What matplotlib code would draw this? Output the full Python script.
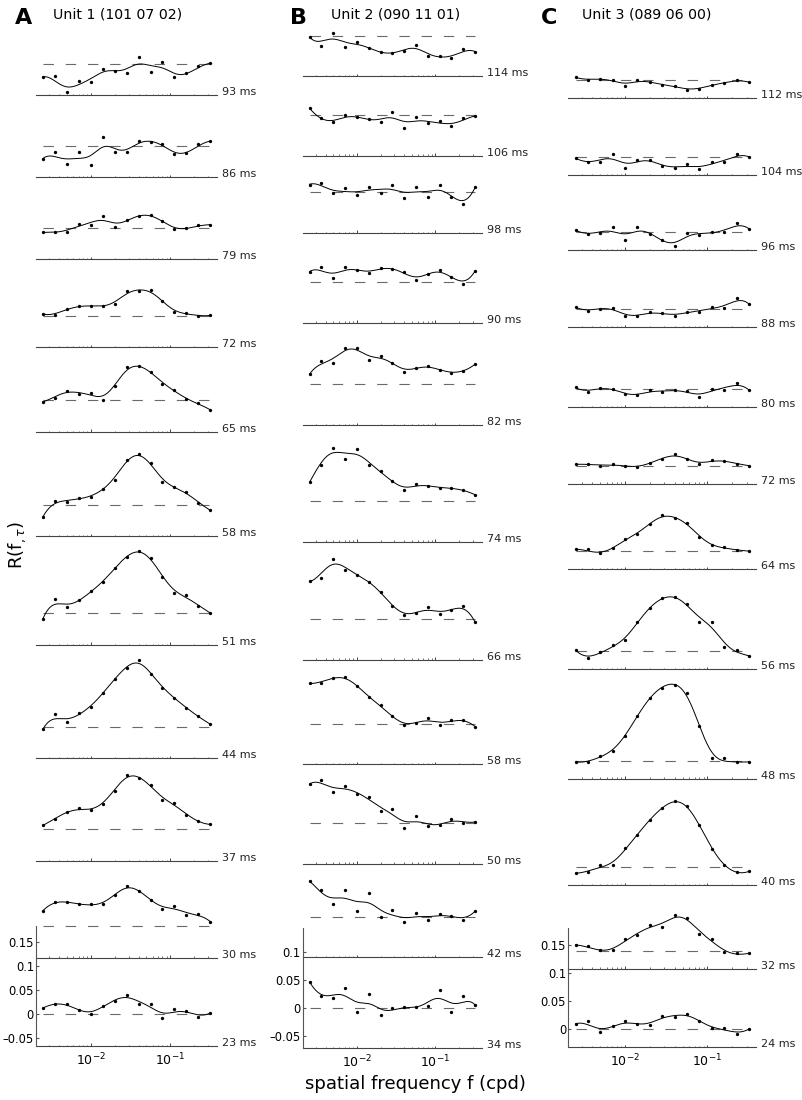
import numpy as np
import matplotlib.pyplot as plt
from matplotlib.ticker import FixedLocator, NullLocator

plt.rcParams['font.family'] = 'DejaVu Sans'
plt.rcParams['lines.scale_dashes'] = False

# spatial frequencies (cpd), same for all three units
freqs = [0.0025, 0.0035, 0.005, 0.0071, 0.01, 0.0141, 0.02, 0.0283,
         0.04, 0.0566, 0.08, 0.113, 0.16, 0.226, 0.32]

# Unit 1 (101 07 02)
unit1_lags = [93, 86, 79, 72, 65, 58, 51, 44, 37, 30, 23]
unit1_r = [
    [-0.028, -0.026, -0.058, -0.036, -0.037, -0.011, -0.014, -0.020, 0.014, -0.017, 0.004, -0.028, -0.020, -0.005, 0.001],
    [-0.027, -0.014, -0.038, -0.012, -0.041, 0.018, -0.014, -0.012, 0.010, 0.008, 0.004, -0.017, -0.016, 0.004, 0.009],
    [-0.010, -0.008, -0.008, 0.007, 0.005, 0.025, 0.001, 0.016, 0.025, 0.026, 0.014, -0.003, -0.001, 0.005, 0.006],
    [0.004, 0.002, 0.014, 0.020, 0.021, 0.021, 0.024, 0.051, 0.051, 0.053, 0.030, 0.008, 0.007, 0.000, 0.001],
    [-0.003, 0.004, 0.020, 0.013, 0.016, 0.001, 0.030, 0.068, 0.070, 0.059, 0.034, 0.021, 0.002, -0.006, -0.020],
    [-0.025, 0.008, 0.006, 0.014, 0.017, 0.033, 0.052, 0.093, 0.106, 0.086, 0.048, 0.037, 0.026, 0.004, -0.011],
    [-0.012, 0.030, 0.012, 0.027, 0.046, 0.064, 0.093, 0.117, 0.130, 0.114, 0.076, 0.043, 0.037, 0.015, 0.001],
    [-0.006, 0.026, 0.009, 0.028, 0.041, 0.069, 0.098, 0.122, 0.138, 0.109, 0.080, 0.060, 0.039, 0.021, 0.005],
    [0.008, 0.021, 0.035, 0.044, 0.039, 0.053, 0.080, 0.113, 0.107, 0.091, 0.061, 0.054, 0.030, 0.016, 0.010],
    [0.032, 0.050, 0.050, 0.045, 0.045, 0.046, 0.064, 0.084, 0.073, 0.055, 0.035, 0.042, 0.023, 0.026, 0.009],
    [0.013, 0.021, 0.021, 0.009, 0.001, 0.018, 0.027, 0.041, 0.021, 0.022, -0.007, 0.010, 0.006, -0.005, 0.003],
]

# Unit 2 (090 11 01)
unit2_lags = [114, 106, 98, 90, 82, 74, 66, 58, 50, 42, 34]
unit2_r = [
    [-0.002, -0.019, 0.004, -0.020, -0.011, -0.023, -0.030, -0.032, -0.027, -0.017, -0.037, -0.036, -0.040, -0.024, -0.029],
    [0.012, -0.006, -0.013, 0.000, -0.004, -0.007, -0.013, 0.006, -0.023, -0.003, -0.015, -0.011, -0.019, -0.006, -0.002],
    [0.014, 0.017, -0.002, 0.007, -0.005, 0.010, -0.001, 0.014, -0.010, 0.010, -0.008, 0.013, -0.008, -0.021, 0.009],
    [0.018, 0.027, 0.007, 0.027, 0.021, 0.016, 0.025, 0.024, 0.017, 0.004, 0.015, 0.021, 0.009, -0.004, 0.020],
    [0.018, 0.042, 0.039, 0.065, 0.065, 0.044, 0.051, 0.039, 0.023, 0.030, 0.033, 0.026, 0.021, 0.024, 0.036],
    [0.034, 0.064, 0.095, 0.074, 0.092, 0.065, 0.053, 0.036, 0.020, 0.030, 0.027, 0.023, 0.023, 0.019, 0.011],
    [0.068, 0.073, 0.107, 0.088, 0.079, 0.067, 0.049, 0.024, 0.008, 0.011, 0.021, 0.009, 0.016, 0.024, -0.006],
    [0.072, 0.073, 0.081, 0.083, 0.068, 0.047, 0.033, 0.014, -0.002, 0.002, 0.010, -0.002, 0.006, 0.007, -0.005],
    [0.069, 0.077, 0.056, 0.066, 0.051, 0.046, 0.022, 0.024, -0.009, 0.012, -0.006, -0.004, 0.007, -0.001, 0.002],
    [0.063, 0.048, 0.023, 0.048, 0.010, 0.042, -0.001, 0.012, -0.010, 0.007, -0.005, 0.005, 0.001, -0.005, 0.010],
    [0.046, 0.021, 0.018, 0.035, -0.008, 0.024, -0.013, -0.001, 0.001, 0.001, 0.003, 0.032, -0.008, 0.021, 0.004],
]

# Unit 3 (089 06 00)
unit3_lags = [112, 104, 96, 88, 80, 72, 64, 56, 48, 40, 32, 24]
unit3_r = [
    [0.005, 0.000, 0.002, 0.001, -0.011, 0.001, -0.004, -0.009, -0.010, -0.017, -0.015, -0.008, -0.006, 0.000, -0.004],
    [-0.002, -0.009, -0.008, 0.005, -0.020, -0.005, -0.005, -0.016, -0.019, -0.013, -0.021, -0.009, -0.009, 0.005, 0.000],
    [0.003, -0.004, -0.002, 0.008, -0.015, 0.009, -0.004, -0.014, -0.026, -0.002, -0.005, -0.001, 0.000, 0.015, 0.005],
    [0.004, -0.003, 0.001, 0.003, -0.012, -0.011, -0.005, -0.007, -0.011, -0.004, -0.004, 0.004, 0.002, 0.021, 0.009],
    [0.003, -0.005, 0.002, 0.001, -0.009, -0.011, -0.002, -0.005, -0.002, -0.003, -0.014, 0.001, -0.001, 0.011, -0.002],
    [0.002, 0.003, 0.000, 0.002, 0.000, -0.003, 0.005, 0.012, 0.020, 0.012, 0.002, 0.010, 0.008, 0.003, 0.000],
    [0.003, 0.003, -0.004, 0.005, 0.022, 0.030, 0.048, 0.064, 0.058, 0.050, 0.025, 0.010, 0.007, 0.002, 0.000],
    [0.002, -0.012, -0.002, 0.010, 0.020, 0.052, 0.077, 0.094, 0.096, 0.084, 0.052, 0.052, 0.007, 0.002, -0.009],
    [-0.002, -0.002, 0.009, 0.018, 0.044, 0.080, 0.112, 0.130, 0.135, 0.121, 0.062, 0.005, 0.005, -0.002, -0.002],
    [-0.010, -0.008, 0.004, 0.005, 0.034, 0.058, 0.085, 0.105, 0.118, 0.110, 0.075, 0.033, 0.004, -0.008, -0.007],
    [0.010, 0.008, 0.001, 0.001, 0.020, 0.028, 0.046, 0.042, 0.063, 0.058, 0.030, 0.020, -0.002, -0.005, -0.005],
    [0.009, 0.014, -0.004, 0.006, 0.014, 0.009, 0.008, 0.024, 0.021, 0.028, 0.014, 0.002, 0.002, -0.008, 0.001],
]

# vertical stacking offset of each trace's zero line (in R units)
unit1_offsets = [1.972, 1.802, 1.632, 1.449, 1.274, 1.057, 0.832, 0.597, 0.384, 0.183, 0.0]
unit2_offsets = [1.736, 1.594, 1.456, 1.296, 1.113, 0.905, 0.694, 0.507, 0.330, 0.1625, 0.0]
unit3_offsets = [1.689, 1.552, 1.419, 1.281, 1.139, 1.003, 0.851, 0.673, 0.478, 0.288, 0.140, 0.0]


def smooth(x, y, xs, bw=0.16):
    # local quadratic fit with gaussian weights, in log frequency
    out = []
    for x0 in xs:
        w = np.sqrt(np.exp(-0.5 * ((x - x0) / bw) ** 2))
        A = np.vstack([np.ones_like(x), x - x0, (x - x0) ** 2]).T
        coef = np.linalg.lstsq(A * w[:, None], y * w, rcond=None)[0]
        out.append(coef[0])
    return np.array(out)


W, H = 803, 1100
fig = plt.figure(figsize=(W / 100, H / 100), dpi=100)

xlim = (0.00204, 0.389)
minor = [m * 10.0 ** k for k in (-3, -2, -1) for m in range(2, 10)]
minor = [v for v in minor if xlim[0] < v < xlim[1]]
major = [0.01, 0.1]

columns = [
    dict(letter='A', title='Unit 1 (101 07 02)', lags=unit1_lags, r=unit1_r, offs=unit1_offsets,
         left=36, right=217, zero_px=1014.3, ppu=482, floor=-0.0655, top=0.183,
         yticks=[-0.05, 0, 0.05, 0.1, 0.15], letter_x=15, title_x=53),
    dict(letter='B', title='Unit 2 (090 11 01)', lags=unit2_lags, r=unit2_r, offs=unit2_offsets,
         left=302.7, right=481.7, zero_px=1007.7, ppu=560, floor=-0.0725, top=0.143,
         yticks=[-0.05, 0, 0.05, 0.1], letter_x=290, title_x=331),
    dict(letter='C', title='Unit 3 (089 06 00)', lags=unit3_lags, r=unit3_r, offs=unit3_offsets,
         left=568.3, right=756, zero_px=1029.3, ppu=562, floor=-0.032, top=0.18,
         yticks=[0, 0.05, 0.1, 0.15], letter_x=541, title_x=582),
]

lx = np.log10(freqs)
xs = np.linspace(lx[0], lx[-1], 300)

for col in columns:
    bottom_px = col['zero_px'] - col['floor'] * col['ppu']
    ax = fig.add_axes([col['left'] / W, 1 - bottom_px / H,
                       (col['right'] - col['left']) / W, bottom_px / H])
    ax.set_xscale('log')
    ax.set_xlim(xlim)
    ax.set_ylim(col['floor'], col['zero_px'] / col['ppu'])
    ax.patch.set_visible(False)
    for s in ['top', 'right', 'bottom']:
        ax.spines[s].set_visible(False)
    ax.spines['left'].set_bounds(col['floor'], col['top'])
    ax.spines['left'].set_color('#555555')
    ax.spines['left'].set_linewidth(0.8)

    px = 1.0 / col['ppu']
    for lag, vals, off in zip(col['lags'], col['r'], col['offs']):
        vals = np.array(vals)
        base = off + col['floor']
        ax.plot(xlim, [base, base], color='#444444', lw=0.8, clip_on=False)
        ax.vlines(minor, base, base + 1.2 * px, color='#555555', lw=0.6)
        ax.vlines(major, base, base + 2.5 * px, color='#444444', lw=0.7)
        ax.plot([freqs[0], freqs[-1]], [off, off], color='#6a6a6a', lw=0.8,
                dashes=(7.5, 8.5))
        ax.plot(10 ** xs, off + smooth(lx, vals, xs), color='black', lw=0.7)
        ax.plot(freqs, off + vals, 'o', color='black', ms=2.4, mew=0)
        ax.annotate(f'{lag} ms', xy=(1, base), xycoords=('axes fraction', 'data'),
                    xytext=(3.5, 0), textcoords='offset points', va='baseline',
                    fontsize=8, color='#222222')

    ax.xaxis.set_major_locator(FixedLocator(major))
    ax.xaxis.set_minor_locator(NullLocator())
    ax.tick_params(axis='x', length=0, labelsize=9, pad=4)
    ax.set_yticks(col['yticks'])
    ax.set_yticklabels([('\u2013' + f'{abs(v):g}') if v < 0 else f'{v:g}' for v in col['yticks']])
    ax.tick_params(axis='y', direction='in', length=2, labelsize=8.3, pad=1.5, color='#555555')

    fig.text(col['letter_x'] / W, 1 - 23.5 / H, col['letter'], fontsize=16,
             fontweight='bold', va='baseline')
    fig.text(col['title_x'] / W, 1 - 18.5 / H, col['title'], fontsize=10.2, va='baseline')

fig.text(415 / W, 1 - 1084 / H, 'spatial frequency f (cpd)', fontsize=13,
         ha='center', va='center')
fig.text(17 / W, 1 - 545 / H, r'R(f$_{,\tau}$)', fontsize=13, rotation=90,
         ha='center', va='center')

fig.savefig('out.png', dpi=100)
